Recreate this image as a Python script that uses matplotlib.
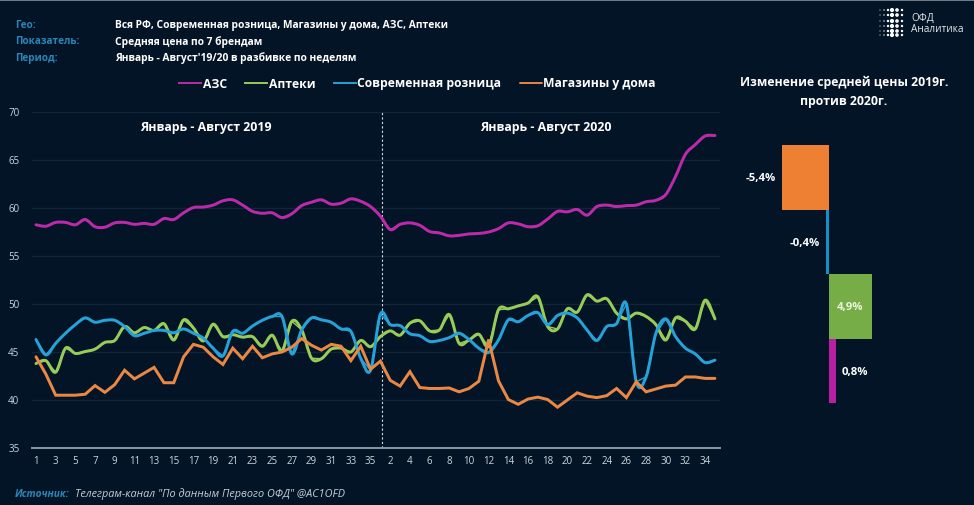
import matplotlib
matplotlib.use("Agg")
import matplotlib.pyplot as plt
from matplotlib.patches import PathPatch
from matplotlib.path import Path
import numpy as np

plt.rcParams['font.family'] = ['Open Sans', 'Noto Sans', 'DejaVu Sans']

azs = [58.25,58.1,58.5,58.5,58.25,58.8,58.05,58.0,58.45,58.5,58.3,58.4,58.3,58.9,58.8,59.5,60.05,60.1,60.3,60.75,60.85,60.3,59.65,59.45,59.5,59.0,59.4,60.25,60.6,60.85,60.4,60.5,60.95,60.7,60.15,
       59.15,57.75,58.3,58.45,58.2,57.55,57.4,57.1,57.15,57.3,57.35,57.5,57.85,58.45,58.35,58.05,58.15,58.85,59.65,59.6,59.85,59.25,60.15,60.3,60.15,60.25,60.3,60.65,60.8,61.4,63.3,65.6,66.6,67.5,67.55]
pharm = [43.8,44.1,42.9,45.4,44.85,45.05,45.3,46.0,46.2,47.65,47.0,47.55,47.25,47.95,46.25,48.35,47.5,46.15,47.9,46.6,46.8,46.55,46.6,45.6,46.75,45.1,48.2,47.3,44.35,44.3,45.3,45.4,45.0,46.2,45.55,
         46.6,47.2,46.75,48.0,48.25,47.2,47.3,48.9,45.9,46.25,46.85,45.6,49.4,49.5,49.8,50.1,50.75,47.65,47.4,49.5,49.15,50.95,50.3,50.55,49.05,48.45,49.05,48.7,47.85,46.25,48.55,48.2,47.4,50.4,48.45]
modern = [46.3,44.7,45.9,46.95,47.85,48.55,48.1,48.3,48.3,47.65,46.7,46.95,47.25,47.25,47.0,47.4,46.95,46.45,45.4,44.6,47.15,46.95,47.7,48.3,48.7,48.7,44.8,47.3,48.55,48.35,48.1,47.4,47.15,44.35,43.1,
          48.95,47.85,47.75,46.9,46.7,46.1,46.2,46.5,46.95,46.3,45.4,44.95,46.25,48.35,48.15,48.8,49.1,47.85,48.8,49.05,48.55,47.3,46.2,47.65,47.95,50.0,41.9,42.4,46.95,48.45,46.6,45.4,44.8,43.9,44.15]
home = [44.5,42.7,40.5,40.5,40.5,40.6,41.5,40.8,41.6,43.1,42.2,42.8,43.4,41.8,41.8,44.5,45.8,45.5,44.5,43.7,45.4,44.3,45.6,44.4,44.8,45.0,45.5,46.4,45.7,45.2,45.8,45.6,44.1,45.6,43.2,
        44.05,42.05,41.45,42.95,41.3,41.2,41.2,41.25,40.85,41.2,41.95,46.3,42.0,40.05,39.55,40.1,40.3,40.05,39.25,40.0,40.75,40.4,40.25,40.45,41.2,40.25,41.9,40.85,41.15,41.45,41.55,42.4,42.4,42.25,42.25]

week_labels = list(range(1, 36, 2)) + list(range(2, 35, 2))
y_ticks = [35, 40, 45, 50, 55, 60, 65, 70]

change_values = [-5.4, -0.4, 4.9, 0.8]
change_text = ['-5,4%', '-0,4%', '4,9%', '0,8%']

BG = '#031426'
C_AZS, C_PH, C_MOD, C_HOME = '#bb2aa8', '#98cc58', '#25a2d8', '#e98845'
W, H = 974, 505
LW = 2.15

fig = plt.figure(figsize=(W/100, H/100), dpi=100, facecolor=BG)

def rect(l, t, r, b):
    return [l/W, 1-b/H, (r-l)/W, (b-t)/H]

def smooth_line(axes, xs, ys, color):
    """Bezier curve through the data points (same kind of smoothing as the source chart)."""
    p = np.column_stack([xs, ys]).astype(float)
    e = np.vstack([p[0], p, p[-1]])
    verts = [p[0]]
    codes = [Path.MOVETO]
    for i in range(len(p) - 1):
        verts += [p[i] + (e[i+2] - e[i]) / 6, p[i+1] - (e[i+3] - e[i+1]) / 6, p[i+1]]
        codes += [Path.CURVE4] * 3
    axes.add_patch(PathPatch(Path(verts, codes), fc='none', ec=color, lw=LW, capstyle='round', joinstyle='round', zorder=3))

# main chart
ax = fig.add_axes(rect(32, 112, 720, 448), facecolor='none')
x = np.arange(len(azs))
ax.set_xlim((32-36)/9.84, (720-36)/9.84)
ax.set_ylim(35, 70)
for vals, col, lab in [(azs, C_AZS, 'АЗС'), (pharm, C_PH, 'Аптеки'), (modern, C_MOD, 'Современная розница')]:
    ax.plot(x, vals, color=col, lw=1.0, label=lab, zorder=3)
    smooth_line(ax, x, vals, col)
ax.plot(x, home, color=C_HOME, lw=LW, label='Магазины у дома', solid_joinstyle='miter', solid_capstyle='round', zorder=3)
ax.grid(axis='y', color='#10243a', lw=0.9)
ax.set_axisbelow(True)
ax.set_yticks(y_ticks)
ax.set_xticks(x[::2], [str(v) for v in week_labels])
ax.tick_params(length=0, labelsize=7, labelcolor='#ced6de')
ax.tick_params(axis='x', pad=5.5)
ax.tick_params(axis='y', pad=9)
for s in ['top', 'left', 'right']:
    ax.spines[s].set_visible(False)
ax.spines['bottom'].set_color('#8b97a5')
ax.spines['bottom'].set_linewidth(1.4)
ax.axvline(35.2, color='#d8dde3', lw=0.8, ls=(0, (2, 2)), zorder=2)

leg = ax.legend(loc='center', bbox_to_anchor=(417.5/W, 1-84/H), bbox_transform=fig.transFigure,
                ncol=4, frameon=False, handlelength=1.82, handletextpad=0.1, columnspacing=1.55,
                prop={'size': 8.7, 'weight': 'bold'}, labelcolor='white')
for h in leg.legend_handles:
    h.set_linewidth(1.4)

# change bars
PX = 8.74
bx = fig.add_axes(rect(760, 145, 900, 403), facecolor='none')
bx.barh(range(4), change_values, height=1.0, color=['#ee8034', '#1590c8', '#76ad47', '#b91fa5'])
bx.set_xlim((760-829)/PX, (900-829)/PX)
bx.set_ylim(3.5, -0.5)
bx.axis('off')
label_x = [-7.8, -2.75, 2.45, 3.0]
for i, t in enumerate(change_text):
    bx.text(label_x[i], i, t, ha='center', va='center_baseline',
            color='#e8f5df' if i == 2 else 'white', fontsize=8.2, fontweight='bold')

# overlay texts (positions in pixels)
ov = fig.add_axes([0, 0, 1, 1], facecolor='none')
ov.set_xlim(0, W)
ov.set_ylim(H, 0)
ov.axis('off')
ov.axhspan(0, 1.2, color='#6f7b88', lw=0)
LBL = '#2a86b8'
rows = [(28, 'Гео:', 'Вся РФ, Современная розница, Магазины у дома, АЗС, Аптеки'),
        (44.5, 'Показатель:', 'Средняя цена по 7 брендам'),
        (61, 'Период:', "Январь - Август'19/20 в разбивке по неделям")]
for y, a, b in rows:
    ov.text(15, y, a, color=LBL, fontsize=7.2, fontweight='bold', va='baseline')
    ov.text(115, y, b, color='white', fontsize=7.35, fontweight='bold', va='baseline')
ov.text(206, 131.5, 'Январь - Август 2019', ha='center', va='baseline', color='white', fontsize=8.9, fontweight='bold')
ov.text(546, 131.5, 'Январь - Август 2020', ha='center', va='baseline', color='white', fontsize=8.9, fontweight='bold')
ov.text(844, 86, 'Изменение средней цены 2019г.', color='white', fontsize=8.8, fontweight='bold', ha='center', va='baseline')
ov.text(844, 105, 'против 2020г.', color='white', fontsize=8.8, fontweight='bold', ha='center', va='baseline')
ov.text(15, 497, 'Источник:', color=LBL, fontsize=7.3, fontweight='bold', style='italic', va='baseline')
ov.text(75, 497, 'Телеграм-канал "По данным Первого ОФД" @AC1OFD', color='#c5ced8', fontsize=7.8, style='italic', va='baseline')
ov.text(911, 21, 'ОФД', color='#e6eaee', fontsize=7.2, va='baseline')
ov.text(911, 32, 'Аналитика', color='#e6eaee', fontsize=7.2, va='baseline')
# logo dots
cols = [880, 884, 888, 892, 897, 902]
rws = [10, 15, 21, 26, 31, 35]
sizes = [0.6, 1, 3, 9, 7, 3]
for r in rws:
    ov.scatter(cols, [r]*6, s=sizes, color='white', lw=0)

fig.savefig('out.png', dpi=100, facecolor=BG)
